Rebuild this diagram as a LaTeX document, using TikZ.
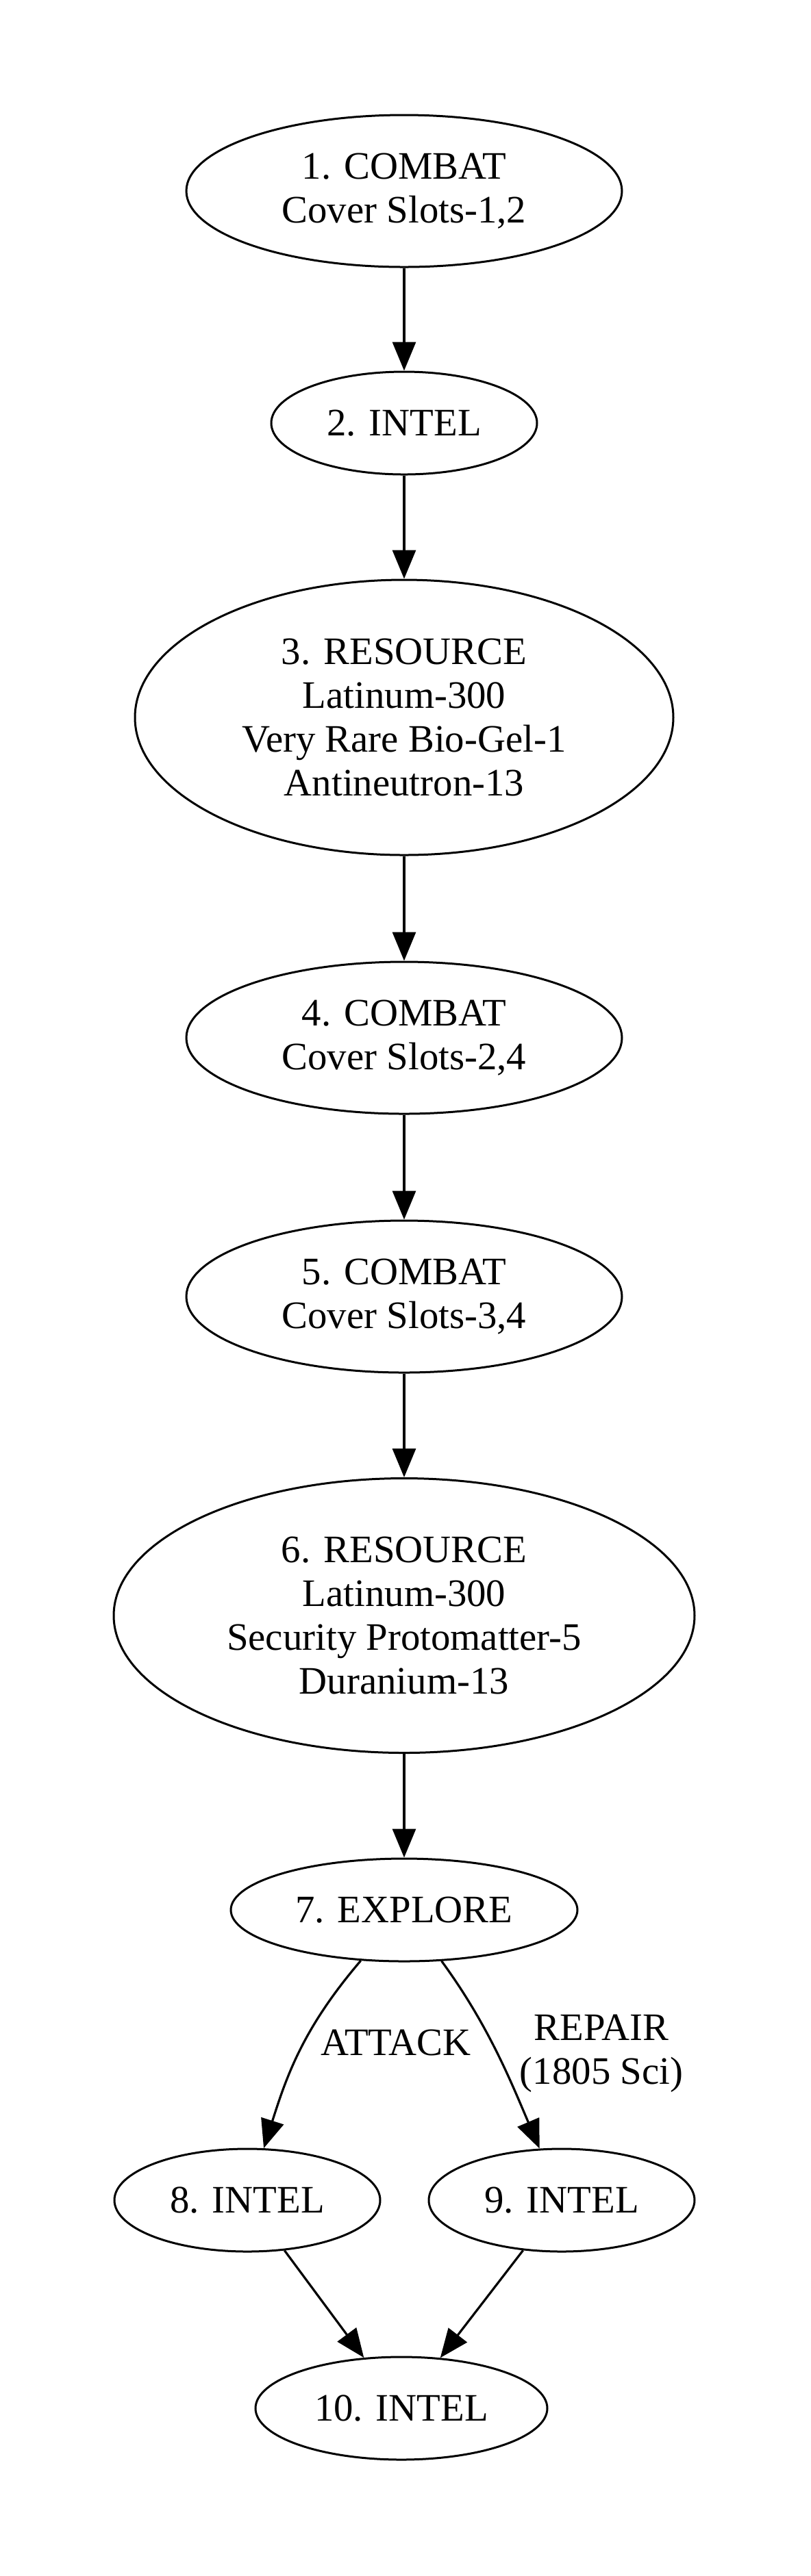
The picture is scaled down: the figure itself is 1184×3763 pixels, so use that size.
\documentclass[tikz,border=0pt]{standalone}
\usepackage{fontspec}
\setmainfont{Liberation Serif}
\usetikzlibrary{shapes.geometric,arrows.meta}

\begin{document}
\begin{tikzpicture}[x=0.25pt, y=-0.25pt,
    stage/.style 2 args={draw, ellipse, line width=0.75pt, inner sep=0pt, align=center,
        minimum width=#1, minimum height=#2, font=\fontsize{14.2}{16}\selectfont},
    edgetext/.style={align=center, font=\fontsize{14.2}{16}\selectfont},
    flow/.style={line width=0.8pt, -{Triangle[length=10.5pt, width=8.5pt]}}]
    % page
    \useasboundingbox (0,0) rectangle (1184,3763);

    % main chain
    \node[stage={159pt}{55.5pt}] (n1) at (590,279) {1. COMBAT\\Cover Slots-1,2};
    \node[stage={97pt}{37.5pt}] (n2) at (590,618) {2. INTEL};
    \node[stage={196.5pt}{100.5pt}] (n3) at (590,1048) {3. RESOURCE\\Latinum-300\\Very Rare Bio-Gel-1\\Antineutron-13};
    \node[stage={159pt}{55.5pt}] (n4) at (590,1516) {4. COMBAT\\Cover Slots-2,4};
    \node[stage={159pt}{55.5pt}] (n5) at (590,1894) {5. COMBAT\\Cover Slots-3,4};
    \node[stage={212pt}{100.25pt}] (n6) at (590,2360) {6. RESOURCE\\Latinum-300\\Security Protomatter-5\\Duranium-13};
    \node[stage={126.5pt}{37.5pt}] (n7) at (590,2790) {7. EXPLORE};

    % split and join
    \node[stage={97pt}{37.5pt}] (n8) at (361,3214) {8. INTEL};
    \node[stage={97pt}{37.5pt}] (n9) at (820,3214) {9. INTEL};
    \node[stage={106.5pt}{37.5pt}] (n10) at (586,3518) {10. INTEL};

    \draw[flow] (n1) -- (n2);
    \draw[flow] (n2) -- (n3);
    \draw[flow] (n3) -- (n4);
    \draw[flow] (n4) -- (n5);
    \draw[flow] (n5) -- (n6);
    \draw[flow] (n6) -- (n7);

    % explore branches
    \draw[flow] (n7) .. controls (443,2962) and (419,3031) .. (n8);
    \draw[flow] (n7) .. controls (713,2958) and (746,3041) .. (n9);
    \node[edgetext] (attack) at (578,2984) {ATTACK};
    \node[edgetext] (repair) at (878,3000) {REPAIR\\(1805 Sci)};

    \draw[flow] (n8) -- (n10);
    \draw[flow] (n9) -- (n10);
\end{tikzpicture}
\end{document}
